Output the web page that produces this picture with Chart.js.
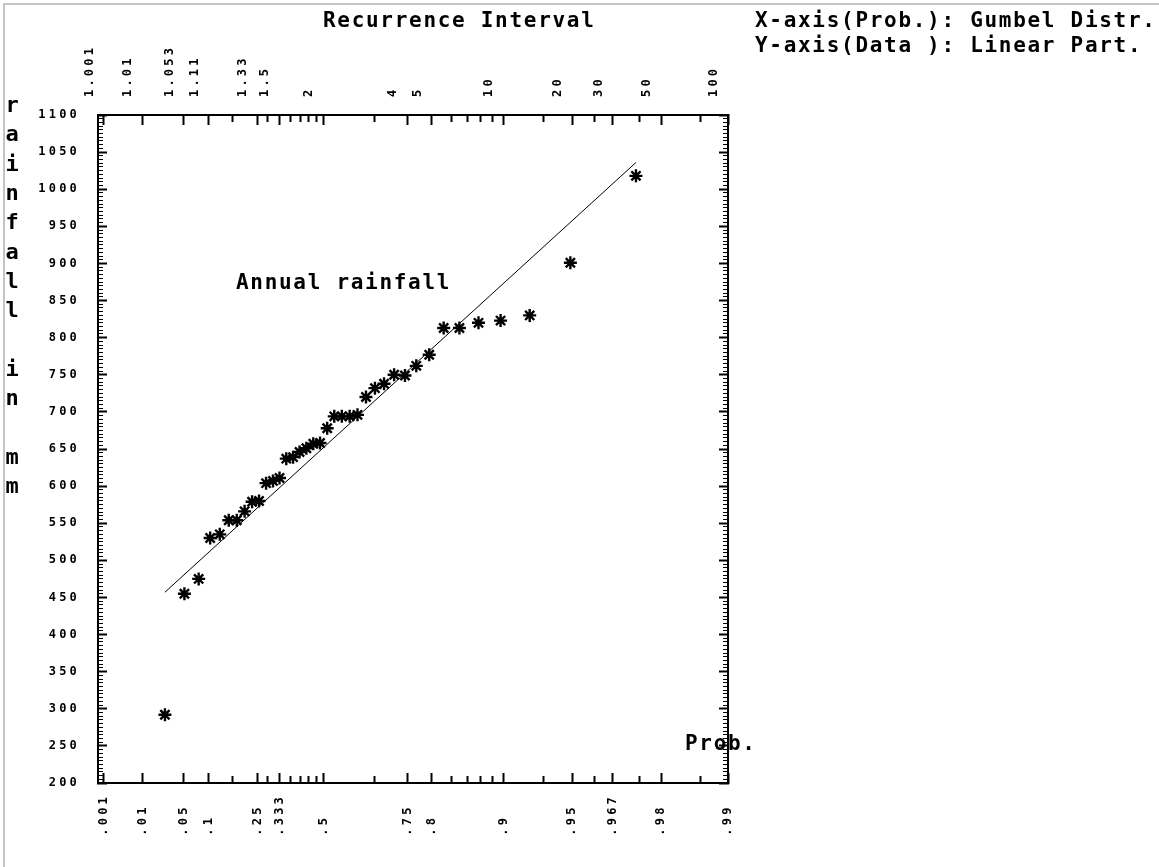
<!DOCTYPE html>
<html>
<head>
<meta charset="utf-8">
<script src="https://cdn.jsdelivr.net/npm/chart.js@4.4.1/dist/chart.umd.min.js"></script>
<style>
html,body{margin:0;padding:0;background:#fff;}
canvas{display:block;}
</style>
</head>
<body>
<canvas id="c" width="1159" height="867"></canvas>
<script>
// ---------------- data ----------------
// plotting probability (non-exceedance) of each ranked observation
const plottingProb = [0.026,0.051,0.077,0.103,0.128,0.154,0.179,0.205,0.231,0.256,
  0.282,0.308,0.333,0.359,0.385,0.410,0.436,0.462,0.487,0.513,
  0.538,0.564,0.590,0.615,0.641,0.667,0.692,0.718,0.744,0.769,
  0.795,0.821,0.846,0.872,0.897,0.923,0.949,0.974];
// annual rainfall in mm
const rainfall = [292,455,475,530,535,554,554,566,579,580,
  604,607,611,637,639,646,651,657,658,678,
  694,694,694,696,720,732,738,750,749,762,
  777,813,813,820,823,830,901,1018];
// fitted Gumbel line (end points)
const fitProb = [0.026, 0.974];
const fitRainfall = [457, 1036];

// axis ticks
const probTicks  = [0.001,0.01,0.05,0.1,0.25,0.333,0.5,0.75,0.8,0.9,0.95,0.967,0.98,0.99];
const probLabels = ['.001','.01','.05','.1','.25','.333','.5','.75','.8','.9','.95','.967','.98','.99'];
const returnLabels = ['1.001','1.01','1.053','1.11','1.33','1.5','2','4','5','10','20','30','50','100'];
const probMinorTicks = [0.1667,0.2857,0.375,0.4118,0.4444,0.4737,0.6667,0.8333,0.8571,0.875,0.8889,0.9333,0.96,0.975,0.9867];
const xMinProb = 0.00064, xMaxProb = 0.99;
const yMin = 200, yMax = 1100, yMajorStep = 50, yMinorStep = 5;

// texts
const topTitle = 'Recurrence Interval';
const infoLines = ['X-axis(Prob.): Gumbel Distr.', 'Y-axis(Data ): Linear Part.'];
const yTitle = 'rainfall in mm';
const xTitle = 'Prob.';

// ---------------- Gumbel probability scale ----------------
const gum = p => -Math.log(-Math.log(p));
const gumInv = u => Math.exp(-Math.exp(-u));

class GumbelScale extends Chart.Scale {
  static id = 'gumbel';
  static defaults = {};
  determineDataLimits() {
    this.min = this.options.min;
    this.max = this.options.max;
  }
  buildTicks() {
    const t = probTicks.map(v => ({value: v, major: true}));
    probMinorTicks.forEach(v => t.push({value: v, major: false}));
    t.sort((a, b) => a.value - b.value);
    return t;
  }
  getLabelForValue(v) { return String(v); }
  configure() {
    super.configure();
    this._uMin = gum(this.min);
    this._uMax = gum(this.max);
  }
  getPixelForValue(v) {
    return this.getPixelForDecimal((gum(v) - this._uMin) / (this._uMax - this._uMin));
  }
  getValueForPixel(px) {
    return gumInv(this._uMin + this.getDecimalForPixel(px) * (this._uMax - this._uMin));
  }
}
Chart.register(GumbelScale);

// ---------------- styling ----------------
const tickFont = {family: "'DejaVu Sans Mono', monospace", size: 12, weight: 'bold'};
const bigFont = "bold 21px 'DejaVu Sans Mono', monospace";
const isMajorY = v => v % yMajorStep === 0;

const textPlugin = {
  id: 'texts',
  beforeDraw(chart) {
    const c = chart.ctx;
    c.save();
    c.strokeStyle = '#c4c4c4';
    c.lineWidth = 2;
    c.beginPath();
    c.moveTo(4, 867); c.lineTo(4, 4); c.lineTo(1159, 4);
    c.stroke();
    c.restore();
    c.letterSpacing = '3.2px';
  },
  afterDraw(chart) {
    const c = chart.ctx;
    c.save();
    c.letterSpacing = '1.7px';
    c.fillStyle = '#000';
    c.font = bigFont;
    c.textBaseline = 'alphabetic';
    c.textAlign = 'left';
    c.fillText(topTitle, 323, 27);
    c.fillText(infoLines[0], 755, 27);
    c.fillText(infoLines[1], 755, 52);
    c.fillText(chart.data.datasets[0].label, 236, 289);
    c.fillText(xTitle, 685, 750);
    c.textAlign = 'center';
    c.letterSpacing = '0px';
    c.font = "bold 22px 'DejaVu Sans Mono', monospace";
    yTitle.split('').forEach((ch, k) => {
      if (ch !== ' ') c.fillText(ch, 12, 112 + 29.3 * k);
    });
    c.restore();
    c.letterSpacing = '0px';
  }
};

const pts = plottingProb.map((p, i) => ({x: p, y: rainfall[i]}));
const fitPts = fitProb.map((p, i) => ({x: p, y: fitRainfall[i]}));

new Chart(document.getElementById('c'), {
  type: 'scatter',
  data: {
    datasets: [
      {
        label: 'Annual rainfall',
        data: pts,
        pointStyle: 'star',
        pointRadius: 6.5,
        borderWidth: 2.4,
        borderColor: '#000',
        backgroundColor: '#000',
        xAxisID: 'x', yAxisID: 'y'
      },
      {
        label: 'fit',
        data: fitPts,
        showLine: true,
        pointRadius: 0,
        borderWidth: 1,
        borderColor: '#000',
        xAxisID: 'x', yAxisID: 'y'
      }
    ]
  },
  options: {
    responsive: false,
    animation: false,
    events: [],
    layout: {padding: {left: 0, right: 430, top: 0, bottom: 0}},
    plugins: {legend: {display: false}, tooltip: {enabled: false}},
    scales: {
      x: {
        type: 'gumbel', position: 'bottom', min: xMinProb, max: xMaxProb,
        ticks: {
          autoSkip: false, minRotation: 90, maxRotation: 90, padding: 21,
          color: '#000', font: tickFont,
          callback: (v) => {
            const k = probTicks.indexOf(v);
            return k < 0 ? '' : probLabels[k].padEnd(4, ' ');
          }
        },
        grid: {
          drawOnChartArea: false, tickLength: -10, tickColor: '#000', tickWidth: 2,
          tickBorderDash: ctx => (ctx.tick && ctx.tick.major) ? [] : [8, 20]
        },
        border: {display: true, color: '#000', width: 2},
        afterFit: s => { s.height = 84; }
      },
      xTop: {
        type: 'gumbel', position: 'top', min: xMinProb, max: xMaxProb,
        ticks: {
          autoSkip: false, minRotation: 90, maxRotation: 90, padding: 28,
          color: '#000', font: tickFont,
          callback: (v) => {
            const k = probTicks.indexOf(v);
            return k < 0 ? '' : returnLabels[k];
          }
        },
        grid: {
          drawOnChartArea: false, tickLength: -10, tickColor: '#000', tickWidth: 2,
          tickBorderDash: ctx => (ctx.tick && ctx.tick.major) ? [] : [8, 3],
          tickBorderDashOffset: ctx => (ctx.tick && ctx.tick.major) ? 0 : 8
        },
        border: {display: true, color: '#000', width: 2},
        afterFit: s => { s.height = 115; }
      },
      y: {
        type: 'linear', position: 'left', min: yMin, max: yMax,
        ticks: {
          stepSize: yMinorStep, autoSkip: false, maxTicksLimit: 1000, padding: 27,
          color: '#000', font: tickFont,
          callback: v => isMajorY(v) ? String(v) : ''
        },
        grid: {
          drawOnChartArea: false, tickLength: -9, tickColor: '#000',
          tickWidth: ctx => (ctx.tick && isMajorY(ctx.tick.value)) ? 2 : 1,
          tickBorderDash: ctx => (ctx.tick && isMajorY(ctx.tick.value)) ? [] : [6, 4],
          tickBorderDashOffset: ctx => (ctx.tick && isMajorY(ctx.tick.value)) ? 0 : 6
        },
        border: {display: true, color: '#000', width: 2},
        afterFit: s => { s.width = 98; }
      },
      y2: {
        type: 'linear', position: 'right', min: yMin, max: yMax,
        ticks: {display: false, stepSize: yMinorStep, autoSkip: false, maxTicksLimit: 1000},
        grid: {
          drawOnChartArea: false, tickLength: -9, tickColor: '#000',
          tickWidth: ctx => (ctx.tick && isMajorY(ctx.tick.value)) ? 2 : 1,
          tickBorderDash: ctx => (ctx.tick && isMajorY(ctx.tick.value)) ? [] : [6, 20]
        },
        border: {display: true, color: '#000', width: 2},
        afterFit: s => { s.width = 1; }
      }
    }
  },
  plugins: [textPlugin]
});
</script>
</body>
</html>
